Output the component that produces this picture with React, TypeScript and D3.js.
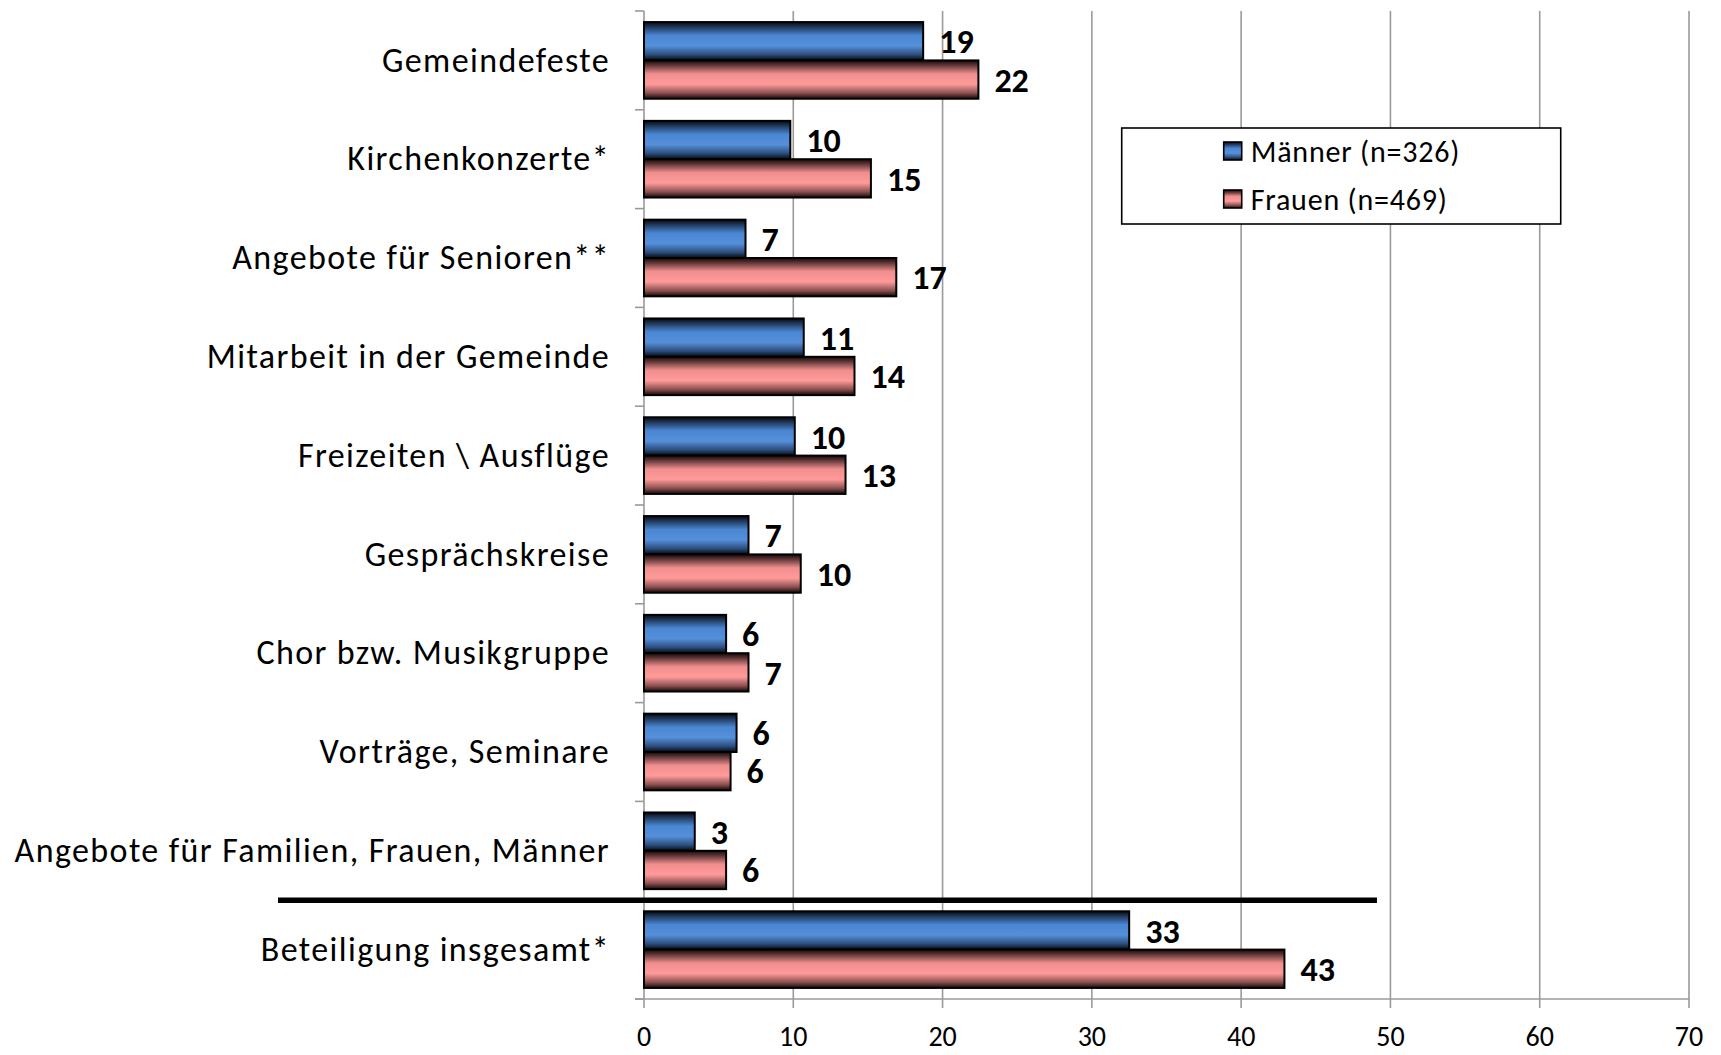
import * as d3 from "d3";
import { useMemo } from "react";

const categories = [
  "Gemeindefeste",
  "Kirchenkonzerte*",
  "Angebote für Senioren**",
  "Mitarbeit in der Gemeinde",
  "Freizeiten \\ Ausflüge",
  "Gesprächskreise",
  "Chor bzw.  Musikgruppe",
  "Vorträge, Seminare",
  "Angebote für Familien, Frauen, Männer",
  "Beteiligung insgesamt*",
];

const maenner = [18.7, 9.8, 6.8, 10.7, 10.1, 7.0, 5.5, 6.2, 3.4, 32.5];
const frauen = [22.4, 15.2, 16.9, 14.1, 13.5, 10.5, 7.0, 5.8, 5.5, 42.9];
const maennerLabels = ["19", "10", "7", "11", "10", "7", "6", "6", "3", "33"];
const frauenLabels = ["22", "15", "17", "14", "13", "10", "7", "6", "6", "43"];

const seriesNames = ["Männer (n=326)", "Frauen (n=469)"];
const xTicks = [0, 10, 20, 30, 40, 50, 60, 70];

const FONT = "Carlito, Calibri, Lato, 'Open Sans', sans-serif";

export default function App() {
  const width = 1721;
  const height = 1055;
  const margin = { top: 11, right: 32, bottom: 56, left: 644 };
  const boundsWidth = width - margin.left - margin.right;
  const boundsHeight = height - margin.top - margin.bottom;

  const xScale = useMemo(
    () => d3.scaleLinear().domain([0, 70]).range([0, boundsWidth]),
    [boundsWidth]
  );
  const yScale = useMemo(
    () => d3.scaleBand().domain(categories).range([0, boundsHeight]).padding(0),
    [boundsHeight]
  );
  const bw = yScale.bandwidth();
  const sub = useMemo(
    () => d3.scaleBand().domain(["m", "f"]).range([bw * 0.112, bw * 0.888]).padding(0),
    [bw]
  );

  const rows = categories.map((c, i) => ({
    c,
    m: maenner[i],
    f: frauen[i],
    ml: maennerLabels[i],
    fl: frauenLabels[i],
  }));

  const sepY = yScale(categories[categories.length - 1]) ?? 0;

  return (
    <svg
      width={width}
      height={height}
      style={{ position: "absolute", left: 0, top: 0, display: "block", background: "#fff" }}
    >
      <defs>
        <linearGradient id="gBlue" x1="0" y1="0" x2="0" y2="1">
          <stop offset="0%" stopColor="#05080e" />
          <stop offset="12%" stopColor="#1e3556" />
          <stop offset="35%" stopColor="#4a86d2" />
          <stop offset="62%" stopColor="#5590da" />
          <stop offset="85%" stopColor="#2c4d7c" />
          <stop offset="100%" stopColor="#05080e" />
        </linearGradient>
        <linearGradient id="gPink" x1="0" y1="0" x2="0" y2="1">
          <stop offset="0%" stopColor="#150808" />
          <stop offset="12%" stopColor="#5c3434" />
          <stop offset="35%" stopColor="#f08e8e" />
          <stop offset="62%" stopColor="#ff9a9a" />
          <stop offset="85%" stopColor="#8c5050" />
          <stop offset="100%" stopColor="#150808" />
        </linearGradient>
      </defs>
      <g transform={`translate(${margin.left}, ${margin.top})`}>
        {/* vertical gridlines + bottom ticks */}
        {xTicks.map((t) => (
          <g key={t}>
            {t > 0 && (
              <line
                x1={xScale(t)}
                x2={xScale(t)}
                y1={0}
                y2={boundsHeight}
                stroke="#9a9a9a"
                strokeWidth={1.6}
              />
            )}
            <line
              x1={xScale(t)}
              x2={xScale(t)}
              y1={boundsHeight}
              y2={boundsHeight + 9}
              stroke="#9a9a9a"
              strokeWidth={1.6}
            />
            <text
              x={xScale(t)}
              y={boundsHeight + 37}
              dy="0.35em"
              textAnchor="middle"
              fontFamily={FONT}
              fontSize={28}
              fill="#000"
            >
              {t}
            </text>
          </g>
        ))}
        {/* axes */}
        <line x1={0} x2={0} y1={0} y2={boundsHeight} stroke="#9a9a9a" strokeWidth={1.6} />
        <line
          x1={-9}
          x2={xScale(70)}
          y1={boundsHeight}
          y2={boundsHeight}
          stroke="#9a9a9a"
          strokeWidth={1.6}
        />
        {d3.range(categories.length + 1).map((i) => (
          <line
            key={i}
            x1={-9}
            x2={0}
            y1={i * bw}
            y2={i * bw}
            stroke="#9a9a9a"
            strokeWidth={1.6}
          />
        ))}

        {rows.map((d) => {
          const y0 = yScale(d.c) ?? 0;
          const ym = y0 + (sub("m") ?? 0);
          const yf = y0 + (sub("f") ?? 0);
          const h = sub.bandwidth();
          return (
            <g key={d.c}>
              <text
                x={-34}
                y={y0 + bw / 2}
                dy="0.33em"
                textAnchor="end"
                fontFamily={FONT}
                fontSize={34}
                letterSpacing={1.4}
                fill="#000"
              >
                {d.c}
              </text>
              <rect
                x={0}
                y={ym}
                width={xScale(d.m)}
                height={h}
                fill="url(#gBlue)"
                stroke="#000"
                strokeWidth={2}
              />
              <rect
                x={0}
                y={yf}
                width={xScale(d.f)}
                height={h}
                fill="url(#gPink)"
                stroke="#000"
                strokeWidth={2}
              />
              <text
                x={xScale(d.m) + 16}
                y={ym + h / 2}
                dy="0.36em"
                fontFamily={FONT}
                fontWeight="bold"
                fontSize={34}
                fill="#000"
              >
                {d.ml}
              </text>
              <text
                x={xScale(d.f) + 16}
                y={yf + h / 2}
                dy="0.36em"
                fontFamily={FONT}
                fontWeight="bold"
                fontSize={34}
                fill="#000"
              >
                {d.fl}
              </text>
            </g>
          );
        })}

        {/* separator between items and total */}
        <line
          x1={-366}
          x2={xScale(49.1)}
          y1={sepY}
          y2={sepY}
          stroke="#000"
          strokeWidth={5.5}
        />

        {/* legend */}
        <g transform={`translate(${xScale(32)}, 117)`}>
          <rect x={0} y={0} width={439} height={96} fill="#fff" stroke="#000" strokeWidth={1.6} />
          {seriesNames.map((s, i) => (
            <g key={s} transform={`translate(102, ${23 + i * 48})`}>
              <rect
                x={0}
                y={-9}
                width={18}
                height={18}
                fill={i === 0 ? "url(#gBlue)" : "url(#gPink)"}
                stroke="#000"
                strokeWidth={1.6}
              />
              <text
                x={27}
                y={0}
                dy="0.35em"
                fontFamily={FONT}
                fontSize={30}
                letterSpacing={0.8}
                fill="#000"
              >
                {s}
              </text>
            </g>
          ))}
        </g>
      </g>
    </svg>
  );
}
